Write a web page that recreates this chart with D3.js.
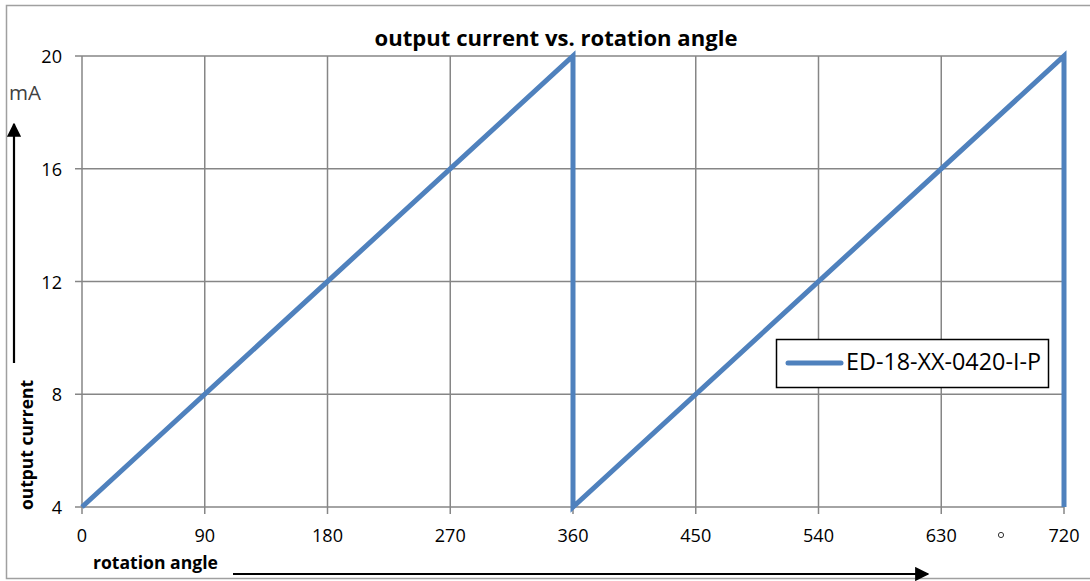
<!DOCTYPE html>
<html>
<head>
<meta charset="utf-8">
<script src="https://cdn.jsdelivr.net/npm/d3@7"></script>
<style>
  body { margin: 0; background: #fff; }
  text { font-family: "Open Sans", Lato, sans-serif; }
</style>
</head>
<body>
<script>
// data
var angles = [0, 360, 360, 720, 720];
var currents = [4, 20, 4, 20, 4];
var xTicks = [0, 90, 180, 270, 360, 450, 540, 630, 720];
var yTicks = [4, 8, 12, 16, 20];
var seriesName = "ED-18-XX-0420-I-P";

var svgWidth = 1090;
var svgHeight = 581;

var margin = { top: 56, right: 26, bottom: 74, left: 82 };
var chartWidth = 1064 - margin.left;
var chartHeight = 507 - margin.top;

var svg = d3.select("body")
  .append("svg")
  .attr("width", svgWidth)
  .attr("height", svgHeight);

// scale a text's font so it takes the width seen in the reference
function fit(sel, width) {
  var size = parseFloat(sel.attr("font-size"));
  var w = sel.node().getComputedTextLength();
  sel.attr("font-size", (size * width / w).toFixed(2) + "px");
  return sel;
}

// outer frame
svg.append("rect")
  .attr("x", 6.5).attr("y", 5.5)
  .attr("width", 1090).attr("height", 573)
  .attr("fill", "none")
  .attr("stroke", "#a0a0a0")
  .attr("stroke-width", 1.5);

var chartGroup = svg.append("g")
  .attr("transform", `translate(${margin.left}, ${margin.top})`);

var xScale = d3.scaleLinear().domain([0, 720]).range([0, chartWidth]);
var yScale = d3.scaleLinear().domain([4, 20]).range([chartHeight, 0]);

// work out the tick font size from the "720" label width
var probe = svg.append("text").attr("font-size", "16px").text("720");
fit(probe, 31);
var tickSize = probe.attr("font-size");
probe.remove();

// gridlines
chartGroup.selectAll(".vgrid")
  .data(xTicks)
  .enter()
  .append("line")
  .attr("x1", d => xScale(d)).attr("x2", d => xScale(d))
  .attr("y1", 0).attr("y2", chartHeight + 7)
  .attr("stroke", "#868686")
  .attr("stroke-width", 1.5);

chartGroup.selectAll(".hgrid")
  .data(yTicks)
  .enter()
  .append("line")
  .attr("x1", -7).attr("x2", chartWidth)
  .attr("y1", d => yScale(d)).attr("y2", d => yScale(d))
  .attr("stroke", "#868686")
  .attr("stroke-width", 1.5);

// tick labels
chartGroup.selectAll(".xlab")
  .data(xTicks)
  .enter()
  .append("text")
  .attr("x", d => xScale(d))
  .attr("y", chartHeight + 35)
  .attr("text-anchor", "middle")
  .attr("font-size", tickSize)
  .text(d => d);

chartGroup.selectAll(".ylab")
  .data(yTicks)
  .enter()
  .append("text")
  .attr("x", -20)
  .attr("y", d => yScale(d) + 7)
  .attr("text-anchor", "end")
  .attr("font-size", tickSize)
  .text(d => d);

// the series
var points = angles.map((a, i) => [a, currents[i]]);
var line = d3.line()
  .x(d => xScale(d[0]))
  .y(d => yScale(d[1]));

chartGroup.append("path")
  .datum(points)
  .attr("d", line)
  .attr("fill", "none")
  .attr("stroke", "#4f81bd")
  .attr("stroke-width", 5)
  .attr("stroke-linejoin", "miter");

// title
fit(svg.append("text")
  .attr("x", 556)
  .attr("y", 46)
  .attr("text-anchor", "middle")
  .attr("font-size", "18px")
  .attr("font-weight", "bold")
  .text("output current vs. rotation angle"), 363);

// y axis label + unit + arrow
fit(svg.append("text")
  .attr("x", 9)
  .attr("y", 100)
  .attr("font-size", "16px")
  .attr("fill", "#404040")
  .text("mA"), 32);

fit(svg.append("text")
  .attr("transform", "rotate(-90)")
  .attr("x", -445)
  .attr("y", 33)
  .attr("text-anchor", "middle")
  .attr("font-size", "15px")
  .attr("font-weight", "bold")
  .text("output current"), 130);

var defs = svg.append("defs");
defs.append("marker")
  .attr("id", "head")
  .attr("viewBox", "0 0 10 10")
  .attr("refX", 9).attr("refY", 5)
  .attr("markerWidth", 6.5).attr("markerHeight", 6.5)
  .attr("orient", "auto")
  .append("path")
  .attr("d", "M0,0 L10,5 L0,10 z")
  .attr("fill", "#000");

svg.append("line")
  .attr("x1", 14).attr("x2", 14)
  .attr("y1", 363).attr("y2", 124)
  .attr("stroke", "#000").attr("stroke-width", 2.2)
  .attr("marker-end", "url(#head)");

// x axis label + arrow + degree sign
fit(svg.append("text")
  .attr("x", 93)
  .attr("y", 569)
  .attr("font-size", "15px")
  .attr("font-weight", "bold")
  .text("rotation angle"), 125);

svg.append("line")
  .attr("x1", 233).attr("x2", 928)
  .attr("y1", 574).attr("y2", 574)
  .attr("stroke", "#000").attr("stroke-width", 2.2)
  .attr("marker-end", "url(#head)");

svg.append("circle")
  .attr("cx", 1001).attr("cy", 535)
  .attr("r", 2.6)
  .attr("fill", "none")
  .attr("stroke", "#333")
  .attr("stroke-width", 1);

// legend
var legend = svg.append("g").attr("transform", "translate(776, 339)");
legend.append("rect")
  .attr("x", 0.5).attr("y", 0.5)
  .attr("width", 272).attr("height", 48)
  .attr("fill", "#fff")
  .attr("stroke", "#000")
  .attr("stroke-width", 1.5);
legend.append("line")
  .attr("x1", 12).attr("x2", 65)
  .attr("y1", 24).attr("y2", 24)
  .attr("stroke", "#4f81bd")
  .attr("stroke-width", 5)
  .attr("stroke-linecap", "round");
fit(legend.append("text")
  .attr("x", 70)
  .attr("y", 31)
  .attr("font-size", "18px")
  .text(seriesName), 195);
</script>
</body>
</html>
